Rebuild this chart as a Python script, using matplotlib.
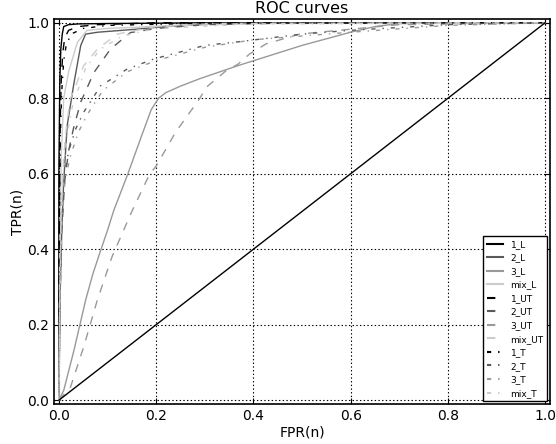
import matplotlib
matplotlib.use("Agg")
import matplotlib.pyplot as plt

plt.rcParams.update({
    'font.family': ['DejaVu Sans'],
    'xtick.direction': 'in', 'ytick.direction': 'in',
    'xtick.top': True, 'ytick.right': True,
    'xtick.major.size': 4, 'ytick.major.size': 4,
    'lines.dashed_pattern': [6, 6],
    'lines.dashdot_pattern': [3, 5, 1, 5],
    'lines.scale_dashes': False,
})

fpr_1_L = [0, 0.0, 0.002, 0.004, 0.007, 0.01, 0.02, 0.04, 0.1, 0.3, 1.0]
tpr_1_L = [0, 0.6, 0.85, 0.93, 0.97, 0.99, 0.995, 0.997, 0.998, 1.0, 1.0]
fpr_2_L = [0, 0.003, 0.006, 0.01, 0.017, 0.031, 0.045, 0.055, 0.08, 0.16, 0.2, 0.3, 0.5, 1]
tpr_2_L = [0, 0.3, 0.45, 0.58, 0.727, 0.84, 0.94, 0.97, 0.975, 0.983, 0.988, 0.997, 1, 1]
fpr_3_L = [0, 0.01, 0.031, 0.055, 0.07, 0.086, 0.1, 0.113, 0.142, 0.17, 0.19, 0.205, 0.22, 0.25, 0.29, 0.372, 0.5, 0.6, 0.65, 0.7, 1]
tpr_3_L = [0, 0.026, 0.132, 0.265, 0.335, 0.397, 0.45, 0.503, 0.6, 0.7, 0.77, 0.8, 0.815, 0.832, 0.852, 0.888, 0.94, 0.975, 0.99, 0.998, 1]
fpr_mix_L = [0, 0.002, 0.005, 0.01, 0.02, 0.038, 0.058, 0.1, 0.16, 0.3, 1]
tpr_mix_L = [0, 0.4, 0.65, 0.8, 0.87, 0.948, 0.98, 0.985, 0.988, 0.998, 1]

fpr_1_UT = [0, 0.001, 0.003, 0.005, 0.008, 0.012, 0.02, 0.04, 0.08, 0.2, 1]
tpr_1_UT = [0, 0.5, 0.75, 0.85, 0.92, 0.96, 0.98, 0.99, 0.995, 1.0, 1.0]
fpr_2_UT = [0, 0.002, 0.006, 0.012, 0.02, 0.03, 0.045, 0.072, 0.106, 0.147, 0.2, 0.3, 0.5, 1]
tpr_2_UT = [0, 0.25, 0.45, 0.58, 0.66, 0.72, 0.79, 0.868, 0.93, 0.974, 0.985, 0.995, 1, 1]
fpr_3_UT = [0, 0.024, 0.051, 0.079, 0.109, 0.15, 0.187, 0.2, 0.24, 0.29, 0.303, 0.344, 0.368, 0.392, 0.426, 0.495, 0.6, 0.7, 1]
tpr_3_UT = [0, 0.035, 0.141, 0.265, 0.379, 0.5, 0.6, 0.62, 0.71, 0.8, 0.829, 0.873, 0.89, 0.917, 0.944, 0.97, 0.983, 0.995, 1]
fpr_mix_UT = [0, 0.002, 0.005, 0.01, 0.016, 0.024, 0.051, 0.079, 0.12, 0.2, 0.4, 1]
tpr_mix_UT = [0, 0.3, 0.5, 0.65, 0.73, 0.8, 0.886, 0.93, 0.97, 0.99, 0.998, 1]

fpr_1_T = [0, 0.001, 0.003, 0.006, 0.01, 0.015, 0.025, 0.05, 0.1, 0.3, 1]
tpr_1_T = [0, 0.45, 0.7, 0.82, 0.9, 0.94, 0.97, 0.985, 0.993, 0.999, 1]
fpr_2_T = [0, 0.002, 0.006, 0.012, 0.02, 0.035, 0.051, 0.086, 0.14, 0.195, 0.3, 0.372, 0.5, 0.6, 0.8, 1]
tpr_2_T = [0, 0.3, 0.5, 0.6, 0.66, 0.72, 0.763, 0.833, 0.877, 0.904, 0.94, 0.95, 0.97, 0.98, 0.995, 1]
fpr_3_T = [0, 0.002, 0.006, 0.012, 0.022, 0.04, 0.06, 0.09, 0.14, 0.2, 0.3, 0.4, 0.5, 0.6, 0.8, 1]
tpr_3_T = [0, 0.28, 0.47, 0.57, 0.64, 0.71, 0.76, 0.82, 0.87, 0.9, 0.935, 0.955, 0.965, 0.975, 0.993, 1]
fpr_mix_T = [0, 0.002, 0.005, 0.01, 0.018, 0.028, 0.055, 0.085, 0.13, 0.2, 0.4, 1]
tpr_mix_T = [0, 0.28, 0.48, 0.62, 0.71, 0.78, 0.88, 0.93, 0.965, 0.985, 0.997, 1]

diag = [0, 1]
ticks = [0.0, 0.2, 0.4, 0.6, 0.8, 1.0]

series = [
    ('1_L', fpr_1_L, tpr_1_L, '0.0', '-'),
    ('2_L', fpr_2_L, tpr_2_L, '0.35', '-'),
    ('3_L', fpr_3_L, tpr_3_L, '0.6', '-'),
    ('mix_L', fpr_mix_L, tpr_mix_L, '0.8', '-'),
    ('1_UT', fpr_1_UT, tpr_1_UT, '0.0', '--'),
    ('2_UT', fpr_2_UT, tpr_2_UT, '0.35', '--'),
    ('3_UT', fpr_3_UT, tpr_3_UT, '0.6', '--'),
    ('mix_UT', fpr_mix_UT, tpr_mix_UT, '0.8', '--'),
    ('1_T', fpr_1_T, tpr_1_T, '0.0', '-.'),
    ('2_T', fpr_2_T, tpr_2_T, '0.35', '-.'),
    ('3_T', fpr_3_T, tpr_3_T, '0.6', '-.'),
    ('mix_T', fpr_mix_T, tpr_mix_T, '0.8', '-.'),
]

fig = plt.figure(figsize=(5.56, 4.44), dpi=100)
ax = fig.add_axes([54/556, 40/444, 496/556, 385/444])
for name, x, y, c, ls in series:
    ax.plot(x, y, color=c, linestyle=ls, linewidth=1, label=name)
ax.plot(diag, diag, color='k', linewidth=1)

ax.set_xlim(-0.01, 1.01)
ax.set_ylim(-0.01, 1.01)
ax.set_xticks(ticks)
ax.set_yticks(ticks)
ax.tick_params(labelsize=10)
ax.grid(True, color='k', linestyle=':', linewidth=0.8)
for s in ax.spines.values():
    s.set_linewidth(1.2)
ax.set_title('ROC curves', fontsize=11.5, pad=4)
ax.set_xlabel('FPR(n)', fontsize=10, labelpad=2)
ax.set_ylabel('TPR(n)', fontsize=10, labelpad=2)

leg = ax.legend(loc='lower right', fontsize=6.5, fancybox=False, framealpha=1,
                edgecolor='k', handlelength=1.8, borderaxespad=0.3,
                labelspacing=0.5, handletextpad=0.8, borderpad=0.4)
for h in leg.get_lines():
    h.set_linewidth(1.5)
leg.get_frame().set_linewidth(1)

fig.savefig('out.png', dpi=100)
